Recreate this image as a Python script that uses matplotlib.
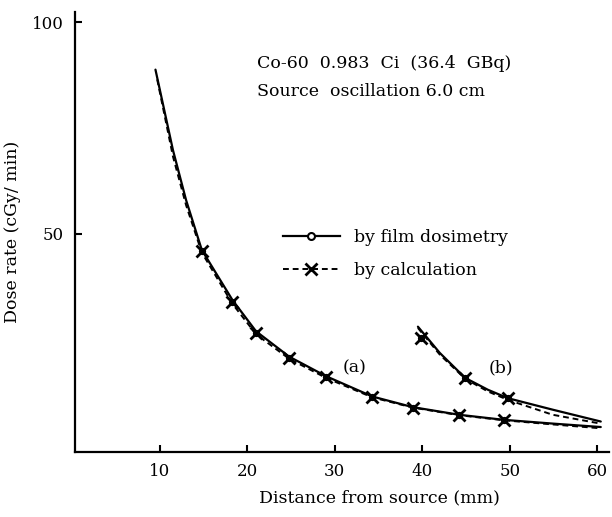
import matplotlib.pyplot as plt
from matplotlib.lines import Line2D

plt.rcParams['font.family'] = ['DejaVu Serif']

# curve (a): film dosimetry (solid) and calculation (dashed)
a_film_x = [9.5, 11.5, 13.0, 14.8, 18.3, 21.0, 24.8, 29.0, 34.3, 38.9, 44.2, 49.3, 55.0, 60.4]
a_film_y = [88.8, 69.8, 58.0, 46.2, 34.4, 27.0, 21.0, 16.4, 11.6, 9.1, 7.3, 6.1, 5.2, 4.4]
a_calc_x = [9.7, 11.5, 13.0, 14.8, 18.3, 21.0, 24.8, 29.0, 34.3, 38.9, 44.2, 49.3, 55.0, 60.4]
a_calc_y = [86.5, 68.3, 56.8, 45.6, 33.5, 26.3, 20.5, 16.0, 11.4, 9.0, 7.2, 6.0, 5.0, 4.1]
a_mark_x = [14.8, 18.3, 21.0, 24.8, 29.0, 34.3, 38.9, 44.2, 49.3]
a_mark_y = [46.0, 34.0, 26.7, 20.8, 16.2, 11.5, 9.0, 7.2, 6.0]

# curve (b)
b_film_x = [39.5, 42.0, 44.9, 47.5, 49.8, 54.9, 60.4]
b_film_y = [28.1, 21.9, 16.0, 13.2, 11.2, 8.5, 5.7]
b_calc_x = [39.5, 42.0, 44.9, 47.5, 49.8, 54.9, 60.4]
b_calc_y = [27.8, 21.5, 15.8, 12.8, 10.8, 7.3, 5.2]
b_mark_x = [39.9, 44.9, 49.8]
b_mark_y = [25.4, 16.0, 11.2]

fig = plt.figure(figsize=(6.12, 5.17), dpi=100)
ax = fig.add_axes([0.1225, 0.1257, 0.872, 0.851])

for fx, fy, cx, cy, mx, my in [(a_film_x, a_film_y, a_calc_x, a_calc_y, a_mark_x, a_mark_y),
                               (b_film_x, b_film_y, b_calc_x, b_calc_y, b_mark_x, b_mark_y)]:
    ax.plot(fx, fy, color='black', lw=1.6, solid_capstyle='round')
    ax.plot(cx, cy, color='black', lw=1.4, ls=(0, (3, 2)))
    ax.plot(mx, my, ls='none', marker='o', ms=4, mfc='white', mec='black', mew=1.2)
    ax.plot(mx, my, ls='none', marker='x', ms=8, color='black', mew=2)

ax.set_xlim(0.3, 61.3)
ax.set_ylim(-1.5, 102.4)
ax.set_xticks([10, 20, 30, 40, 50, 60])
ax.set_yticks([50, 100])
ax.tick_params(direction='in', length=5, width=1.5, labelsize=12, pad=8)
for s in ['top', 'right']:
    ax.spines[s].set_visible(False)
for s in ['left', 'bottom']:
    ax.spines[s].set_linewidth(1.6)

ax.set_xlabel('Distance from source (mm)', fontsize=12.5)
ax.xaxis.set_label_coords(0.57, -0.085)
ax.set_ylabel('Dose rate (cGy/ min)', fontsize=12.5, labelpad=8)

ax.text(21.1, 90.3, 'Co-60  0.983  Ci  (36.4  GBq)', fontsize=12.5, va='center')
ax.text(21.1, 83.7, 'Source  oscillation 6.0 cm', fontsize=12.5, va='center')
ax.text(32.3, 18.4, '(a)', fontsize=12.5, va='center', ha='center')
ax.text(49.0, 18.3, '(b)', fontsize=12.5, va='center', ha='center')

handles = [Line2D([], [], color='black', lw=1.6, marker='o', ms=5, mfc='white', mec='black', mew=1.5),
           Line2D([], [], color='black', lw=1.4, ls=(0, (3, 2)), marker='x', ms=8, mew=2)]
ax.legend(handles, ['by film dosimetry', 'by calculation'], loc='center left',
          bbox_to_anchor=(0.36, 0.45), frameon=False, fontsize=12.5, handlelength=3.3,
          labelspacing=0.9)

fig.savefig('out.png', dpi=100)
